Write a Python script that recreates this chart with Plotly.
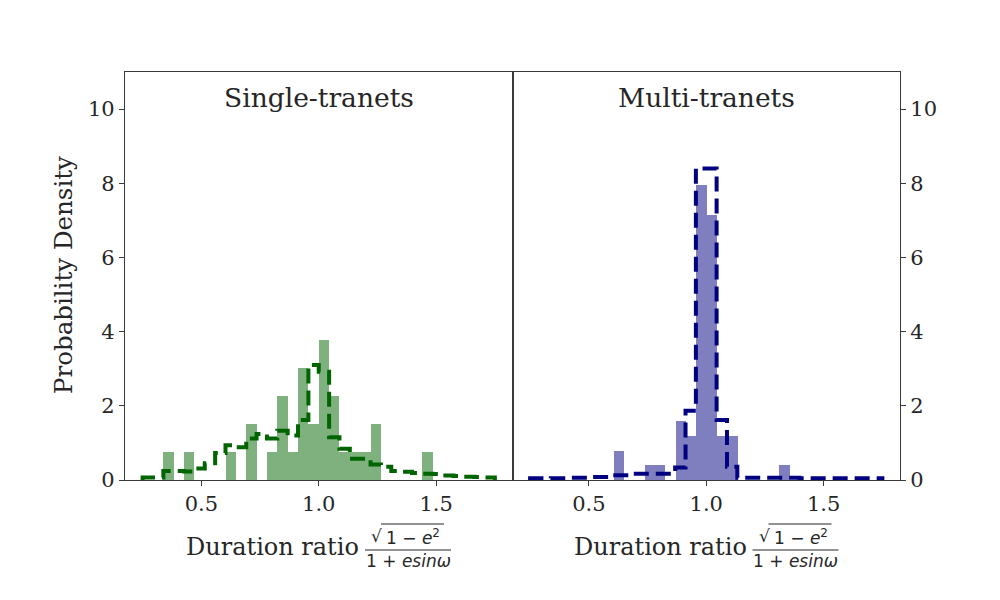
"""
Histogrammes du rapport de durée, single vs multi tranets (Plotly).
"""
import plotly.graph_objects as go
from plotly.subplots import make_subplots

# Bins communs : 34 bins entre 0.25 et 1.75
bin_lo, bin_hi, n_bins = 0.25, 1.75, 34

# Comptes observés par bin
single_counts = [0, 0, 1, 0, 1, 0, 0, 0, 1, 0, 2, 0, 1, 3, 1, 4, 2,
                 5, 3, 1, 1, 1, 2, 0, 0, 0, 0, 1, 0, 0, 0, 0, 0, 0]
multi_counts = [0, 0, 0, 0, 0, 0, 0, 0, 2, 0, 0, 1, 1, 0, 4, 3, 20,
                18, 3, 3, 0, 0, 0, 0, 1, 0, 0, 0, 0, 0, 0, 0, 0, 0]
n_single = 30
n_multi = 57

# Densité du modèle (contour en tirets)
single_model = [0.07, 0.07, 0.24, 0.24, 0.23, 0.31, 0.45, 0.73, 0.94, 0.88, 1.12, 1.24,
                1.12, 1.33, 1.20, 1.62, 3.10, 2.92, 1.15, 0.84, 0.57, 0.57, 0.42, 0.36,
                0.24, 0.22, 0.19, 0.17, 0.16, 0.12, 0.11, 0.09, 0.08, 0.07]
multi_model = [0.045, 0.045, 0.05, 0.05, 0.06, 0.06, 0.08, 0.08, 0.13, 0.13, 0.17, 0.17,
               0.17, 0.17, 0.34, 1.87, 8.40, 8.40, 1.62, 0.36, 0.06, 0.06, 0.06, 0.06,
               0.06, 0.06, 0.045, 0.045, 0.045, 0.045, 0.045, 0.045, 0.045, 0.045]

x_ticks = [0.5, 1.0, 1.5]
x_ticktext = ["0.5", "1.0", "1.5"]
y_ticks = [0, 2, 4, 6, 8, 10]
panel_titles = ["Single-tranets", "Multi-tranets"]

bin_w = (bin_hi - bin_lo) / n_bins
edges = [bin_lo + i * bin_w for i in range(n_bins + 1)]
centers = [(a + b) / 2 for a, b in zip(edges[:-1], edges[1:])]

TXT = "#262626"
AX = "#3a3a3a"
SERIF = "DejaVu Serif"

# Géométrie de la zone de tracé (px, coordonnées écran)
# la page ajoute ~8 px de marge autour du graphe
OFF = 8
L, T = 125, 72          # coin haut-gauche de la zone de tracé à l'écran
PW, PH = 775, 408
W, H = 1000, 600
ml, mt = L - OFF, T - OFF
mr, mb = W - ml - PW, H - mt - PH


def px(x):
    return (x - L) / PW


def py(y):
    return (T + PH - y) / PH


def step_xy(vals):
    xs = [edges[0]] + edges[:-1] + [edges[-1], edges[-1]]
    ys = [0] + vals + [vals[-1], 0]
    return xs, ys


fig = make_subplots(rows=1, cols=2, shared_yaxes=True, horizontal_spacing=0)

panels = [
    (single_counts, n_single, single_model, "rgba(0,100,0,0.5)", "#006400"),
    (multi_counts, n_multi, multi_model, "rgba(0,0,128,0.5)", "#000080"),
]
for col, (counts, n_tot, model, fill, line_col) in enumerate(panels, start=1):
    dens = [c / (n_tot * bin_w) for c in counts]
    fig.add_trace(
        go.Bar(x=centers, y=dens, width=bin_w, marker_color=fill,
               marker_line_width=0, showlegend=False),
        row=1, col=col,
    )
    xs, ys = step_xy(model)
    fig.add_trace(
        go.Scatter(x=xs, y=ys, mode="lines", line_shape="hv",
                   line=dict(color=line_col, width=4, dash="15px,7px"),
                   showlegend=False),
        row=1, col=col,
    )

axis_common = dict(
    showline=True, linecolor=AX, linewidth=1.3, mirror=True,
    showgrid=False, zeroline=False,
    ticks="outside", ticklen=5, tickwidth=1.2, tickcolor=AX,
    tickfont=dict(family=SERIF, size=21, color=TXT),
)
for col in (1, 2):
    fig.update_xaxes(range=[0.175, 1.825], tickvals=x_ticks, ticktext=x_ticktext,
                     **axis_common, row=1, col=col)
fig.update_yaxes(range=[0, 11], tickvals=y_ticks, **axis_common, row=1, col=1)
fig.update_yaxes(range=[0, 11], tickvals=y_ticks, side="right",
                 showticklabels=True, **axis_common, row=1, col=2)

# Titres des panneaux
for i, title in enumerate(panel_titles):
    fig.add_annotation(
        x=px(L + PW / 4 + i * PW / 2), y=py(97), xref="paper", yref="paper",
        text=title, showarrow=False, xanchor="center", yanchor="middle",
        font=dict(family=SERIF, size=26.5, color=TXT),
    )

# Label Y
fig.add_annotation(
    x=px(63), y=py(275), xref="paper", yref="paper",
    text="Probability Density", textangle=-90, showarrow=False,
    xanchor="center", yanchor="middle",
    font=dict(family=SERIF, size=24.5, color=TXT),
)

# Label X avec fraction sqrt(1-e^2)/(1+e sin w)
for i in range(2):
    x0 = L + i * PW / 2
    fig.add_annotation(
        x=px(x0 + 236), y=py(547), xref="paper", yref="paper",
        text="Duration ratio", showarrow=False, xanchor="right", yanchor="middle",
        font=dict(family=SERIF, size=24, color=TXT),
    )
    fig.add_annotation(
        x=px(x0 + 244), y=py(536), xref="paper", yref="paper",
        text="√", showarrow=False, xanchor="left", yanchor="middle",
        font=dict(family="DejaVu Sans", size=17, color=TXT),
    )
    fig.add_annotation(
        x=px(x0 + 288), y=py(537), xref="paper", yref="paper",
        text="1 − <i>e</i><sup>2</sup>", showarrow=False,
        xanchor="center", yanchor="middle",
        font=dict(family="DejaVu Sans", size=17, color=TXT),
    )
    fig.add_annotation(
        x=px(x0 + 283), y=py(561), xref="paper", yref="paper",
        text="1 + <i>esinω</i>", showarrow=False,
        xanchor="center", yanchor="middle",
        font=dict(family="DejaVu Sans", size=17, color=TXT),
    )
    # trait de fraction et barre de la racine
    fig.add_shape(type="line", xref="paper", yref="paper",
                  x0=px(x0 + 240), x1=px(x0 + 326), y0=py(550), y1=py(550),
                  line=dict(color=TXT, width=1.2))
    fig.add_shape(type="line", xref="paper", yref="paper",
                  x0=px(x0 + 256), x1=px(x0 + 319), y0=py(524), y1=py(524),
                  line=dict(color=TXT, width=1.2))

fig.update_layout(
    width=W, height=H,
    margin=dict(l=ml, r=mr, t=mt, b=mb),
    paper_bgcolor="white", plot_bgcolor="white",
    bargap=0, barmode="overlay",
    font=dict(family=SERIF, color=TXT),
    showlegend=False,
)

fig.write_html("out.html")
